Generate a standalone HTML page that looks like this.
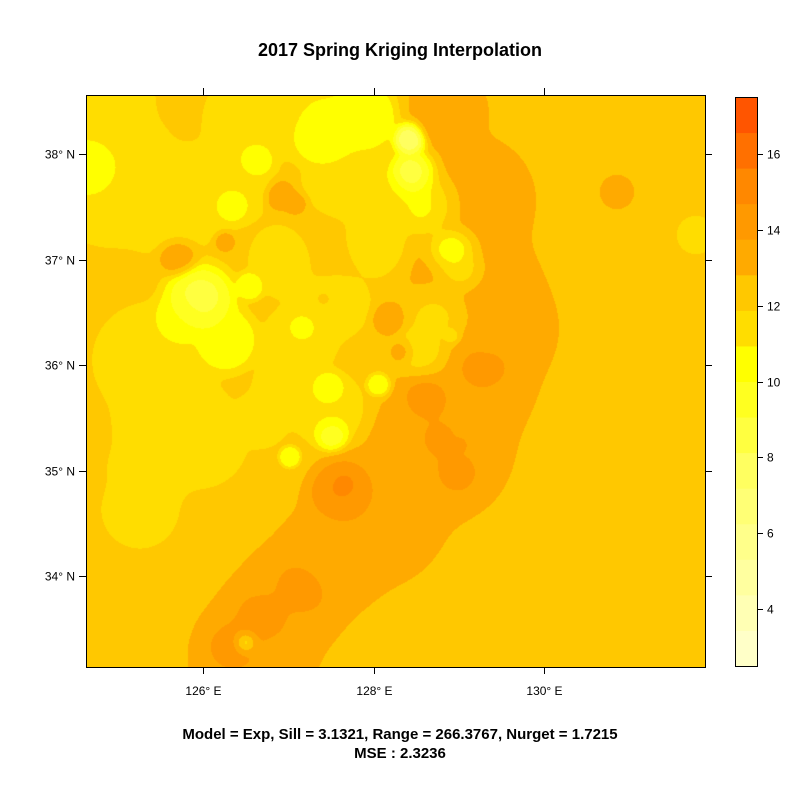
<!DOCTYPE html>
<html><head><meta charset="utf-8"><style>
body{margin:0;background:#fff;width:800px;height:800px;overflow:hidden;font-family:"Liberation Sans",Arial,sans-serif;}
#wrap{position:relative;width:800px;height:800px;}
canvas{position:absolute;left:86px;top:95px;}
svg{position:absolute;left:0;top:0;}
</style></head><body>
<div id="wrap">
<canvas id="map" width="619" height="572"></canvas>
<svg id="svg" width="800" height="800"></svg>
</div>
<script>
// ---- data ----
const baseValue = 12.3;
const ptLon = [], ptLat = [];
const ptX = [447,470,475,470,500,440,380,330,290,260,250,
 348,430,440,455,480,300,265,240,246,492,345,460,
 90,324,363,411,415,431,454,462,292,343,387,371,443,427,
 201,200,225,180,150,170,200,150,140,110,170,230,
 290,330,300,290,330,260,332,302,250,379,290,452,328,
 177,225,617,435,478,280,296,324,389,403,696,
 250,120,320,175,256,232];
const ptY = [110,200,290,380,330,450,520,560,600,640,670,
 497,400,440,470,369,590,620,650,643,367,485,445,
 168,132,117,139,176,205,249,271,117,187,205,242,316,352,
 297,300,340,320,360,420,440,470,510,180,200,180,
 260,300,340,390,410,420,433,328,286,385,457,336,389,
 255,242,192,128,202,196,205,299,319,352,235,
 120,125,255,108,160,205];
const ptVal = [13.2,13.2,13.2,13.2,13.2,13.2,13.2,13.2,13.2,13.2,13.2,
 15.3,15,15,15,15.2,15.2,15.2,15.2,6.5,15.8,15.8,15.5,
 10,10,10,7,8,10,9,10,11,11,11,11,11,11,
 8,9,10,10,11,11,11,11,11,11,11,11,
 11,11,11,11,11,11,9,10,10,10,10,10,10,
 13.3,13.3,13.3,13.3,13.3,13.3,13.3,13.3,13.3,13.3,11,
 11,11,12.3,12.3,10,10];
const ptR = [25,40,41,41,35,45,40,35,35,35,35,
 22,17,17,17,20,22,22,22,8,8,6,5,
 18,20,20,10,15,20,15,15,20,22,20,20,20,18,
 12,20,18,15,30,30,25,22,20,35,30,25,
 22,22,20,20,20,15,10,8,8,7,6,6,10,
 12,6,10,10,10,10,8,6,10,8,10,
 25,25,32,12,10,10];
for(let i=0;i<ptX.length;i++){ptLon.push(126+(ptX[i]-203)/85.3);ptLat.push(38-(ptY[i]-154)/105.5);}
const breaks = [2.5,3.4375,4.375,5.3125,6.25,7.1875,8.125,9.0625,10,10.9375,11.875,12.8125,13.75,14.6875,15.625,16.5625,17.5];
const levelColors = ['#FFFFC8','#FFFFB4','#FFFF9F','#FFFF8A','#FFFF75','#FFFF60','#FFFF40','#FFFF20','#FFFF00','#FFDD00','#FFC800','#FFAA00','#FF9900','#FF8800','#FF7000','#FF5500'];
const lonTicks = [126,128,130];
const latTicks = [34,35,36,37,38];
const barTicks = [4,6,8,10,12,14,16];

// ---- axes ----
const L=86,T=95,R=705,B=667;
const xOf = lon => 203 + (lon-126)*85.3;
const yOf = lat => 154 - (lat-38)*105.5;
const barTop=97, barBot=666, vMin=2.5, vMax=17.5;
const yBar = v => barBot - (v-vMin)/(vMax-vMin)*(barBot-barTop);

// ---- surface ----
const cv=document.getElementById('map'), ctx=cv.getContext('2d');
const W=cv.width,H=cv.height, img=ctx.createImageData(W,H);
const rgb=levelColors.map(c=>[parseInt(c.substr(1,2),16),parseInt(c.substr(3,2),16),parseInt(c.substr(5,2),16)]);
const px=ptLon.map(xOf), py=ptLat.map(yOf);
function bandOf(v){let b=0;while(b<levelColors.length-1&&v>=breaks[b+1])b++;return b;}
for(let j=0;j<H;j++){for(let i=0;i<W;i++){
 const X=L+i+0.5,Y=T+j+0.5; let sw=0.05, sv=0.05*baseValue;
 for(let k=0;k<px.length;k++){const dx=X-px[k],dy=Y-py[k];const d2=(dx*dx+dy*dy)/(ptR[k]*ptR[k]); if(d2>12)continue; const w=Math.exp(-d2); sw+=w; sv+=w*ptVal[k];}
 const v=sv/sw; const b=bandOf(v);
 const o=(j*W+i)*4, c=rgb[b]; img.data[o]=c[0];img.data[o+1]=c[1];img.data[o+2]=c[2];img.data[o+3]=255;
}}
ctx.putImageData(img,0,0);

// ---- svg overlay ----
const svg=document.getElementById('svg'), NS='http://www.w3.org/2000/svg';
function mk(tag,attrs,name,text){const e=document.createElementNS(NS,tag);for(const a in attrs)e.setAttribute(a,attrs[a]);
 
 
 if(text!==undefined)e.textContent=text; svg.appendChild(e); return e;}
mk('rect',{x:L+0.5,y:T+0.5,width:R-L,height:B-T,fill:'none',stroke:'#000','stroke-width':1},'plot-frame');
lonTicks.forEach(t=>{const x=Math.round(xOf(t))+0.5;
 mk('line',{x1:x,x2:x,y1:T,y2:T-7,stroke:'#000'},'top-tick');
 mk('line',{x1:x,x2:x,y1:B,y2:B+7,stroke:'#000'},'bottom-tick');
 mk('text',{x:x,y:695,'text-anchor':'middle','font-size':12,fill:'#000'},'x-tick-label',t+'° E');});
latTicks.forEach(t=>{const y=Math.round(yOf(t))+0.5;
 mk('line',{x1:L,x2:L-7,y1:y,y2:y,stroke:'#000'},'left-tick');
 mk('line',{x1:R,x2:R+7,y1:y,y2:y,stroke:'#000'},'right-tick');
 mk('text',{x:75,y:y+4,'text-anchor':'end','font-size':12,fill:'#000'},'y-tick-label',t+'° N');});
levelColors.forEach((c,i)=>{const y1=yBar(breaks[i+1]),y2=yBar(breaks[i]);
 mk('rect',{x:735,y:y1,width:22,height:y2-y1+0.5,fill:c},'colorbar-band');});
mk('rect',{x:735.5,y:barTop+0.5,width:22,height:barBot-barTop,fill:'none',stroke:'#000'},'colorbar-frame');
barTicks.forEach(t=>{const y=Math.round(yBar(t))+0.5;
 mk('line',{x1:757,x2:763,y1:y,y2:y,stroke:'#000'},'colorbar-tick');
 mk('text',{x:767,y:y+4,'font-size':12,fill:'#000'},'colorbar-label',String(t));});
mk('text',{x:400,y:56,'text-anchor':'middle','font-size':18,'font-weight':'bold',fill:'#000'},'chart-title','2017 Spring Kriging Interpolation');
mk('text',{x:400,y:739,'text-anchor':'middle','font-size':15,'font-weight':'bold',fill:'#000'},'model-caption','Model = Exp, Sill = 3.1321, Range = 266.3767, Nurget = 1.7215');
mk('text',{x:400,y:758,'text-anchor':'middle','font-size':15,'font-weight':'bold',fill:'#000'},'mse-caption','MSE : 2.3236');
</script>
</body></html>
